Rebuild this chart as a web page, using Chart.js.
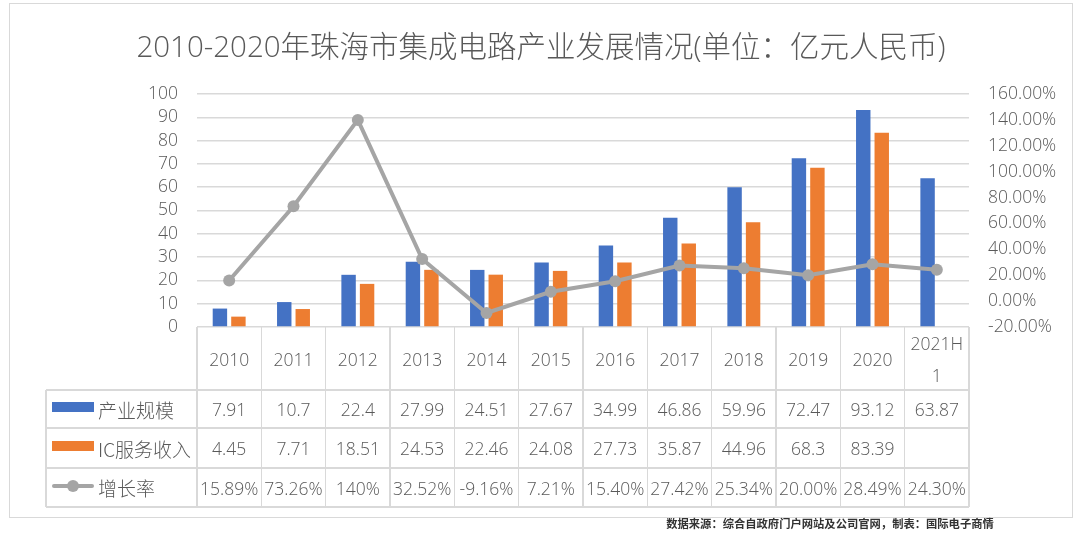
<!DOCTYPE html>
<html>
<head>
<meta charset="utf-8">
<script src="https://cdn.jsdelivr.net/npm/chart.js@4.4.1/dist/chart.umd.min.js"></script>
<style>
  body { margin: 0; background: #fff; }
  #wrap { position: relative; width: 1080px; height: 534px; overflow: hidden;
          font-family: 'Open Sans', 'Noto Sans CJK SC', sans-serif; color: #595959; }
  #frame { position: absolute; left: 9px; top: 3px; width: 1064px; height: 515px;
           border: 1.5px solid #d9d9d9; box-sizing: border-box; }
  #title { position: absolute; left: 0; width: 1082px; top: 26px; text-align: center;
           font-size: 29.5px; font-weight: 300; line-height: 40px; white-space: nowrap; }
  #note { position: absolute; left: 640px; width: 380px; top: 514px; text-align: center;
          font-family: 'Noto Sans CJK SC', sans-serif; font-size: 11.3px; font-weight: 700;
          color: #333; line-height: 18px; white-space: nowrap; }
  canvas { position: absolute; left: 0; top: 0; }
  .ln { position: absolute; background: #d9d9d9; }
  .cell { position: absolute; display: flex; align-items: center; justify-content: center;
          text-align: center; font-size: 17.5px; font-weight: 300; white-space: nowrap;
          line-height: 32px; }
  .lab { position: absolute; font-size: 19px; font-weight: 300; white-space: nowrap;
         font-family: 'Noto Sans CJK SC', sans-serif; display: flex; align-items: center; }
  .key { position: absolute; }
</style>
</head>
<body>
<div id="wrap">
  <div id="frame"></div>
  <canvas id="chart" width="1080" height="534"></canvas>
  <div id="title">2010-2020年珠海市集成电路产业发展情况(单位：亿元人民币)</div>
  <div id="note">数据来源：综合自政府门户网站及公司官网，制表：国际电子商情</div>
</div>
<script>
// 数据
const years = ['2010', '2011', '2012', '2013', '2014', '2015', '2016', '2017', '2018', '2019', '2020', '2021H1'];
const yearLabels = ['2010', '2011', '2012', '2013', '2014', '2015', '2016', '2017', '2018', '2019', '2020', '2021H<br>1'];
const industryScale = [7.91, 10.7, 22.4, 27.99, 24.51, 27.67, 34.99, 46.86, 59.96, 72.47, 93.12, 63.87];
const icIncome = [4.45, 7.71, 18.51, 24.53, 22.46, 24.08, 27.73, 35.87, 44.96, 68.3, 83.39, null];
const growth = [15.89, 73.26, 140, 32.52, -9.16, 7.21, 15.40, 27.42, 25.34, 20.00, 28.49, 24.30];
const growthText = ['15.89%', '73.26%', '140%', '32.52%', '-9.16%', '7.21%', '15.40%', '27.42%', '25.34%', '20.00%', '28.49%', '24.30%'];
const seriesNames = ['产业规模', 'IC服务收入', '增长率'];

const BLUE = '#4472c4', ORANGE = '#ed7d31', GRAY = '#a5a5a5', GRID = '#d9d9d9';

Chart.defaults.font.family = "'Open Sans', 'Noto Sans CJK SC', sans-serif";
Chart.defaults.font.weight = 300;
Chart.defaults.color = '#595959';

const ctx = document.getElementById('chart').getContext('2d');
const chart = new Chart(ctx, {
    type: 'bar',
    data: {
        labels: years,
        datasets: [
            { label: seriesNames[0], data: industryScale, backgroundColor: BLUE, yAxisID: 'y', order: 2,
              categoryPercentage: 0.575, barPercentage: 0.78 },
            { label: seriesNames[1], data: icIncome, backgroundColor: ORANGE, yAxisID: 'y', order: 2,
              categoryPercentage: 0.575, barPercentage: 0.78 },
            { type: 'line', label: seriesNames[2], data: growth, yAxisID: 'y2', order: 1,
              borderColor: GRAY, borderWidth: 4, pointRadius: 6, pointBackgroundColor: GRAY,
              pointBorderWidth: 0, tension: 0 }
        ]
    },
    options: {
        responsive: false,
        animation: false,
        layout: { padding: { top: 94, bottom: 207, left: 0, right: 0 } },
        plugins: { legend: { display: false }, tooltip: { enabled: false } },
        scales: {
            x: { display: false },
            y: {
                position: 'left', min: 0, max: 100,
                ticks: { stepSize: 10, padding: 19, autoSkip: false, font: { size: 17.5 } },
                grid: { color: GRID, lineWidth: 1.5, drawTicks: false },
                border: { display: false },
                afterFit: s => { s.width = 197; }
            },
            y2: {
                position: 'right', min: -20, max: 160,
                ticks: { stepSize: 20, padding: 19, autoSkip: false, font: { size: 17.5 },
                         callback: v => v.toFixed(2) + '%' },
                grid: { display: false, drawTicks: false },
                border: { display: false },
                afterFit: s => { s.width = 111; }
            }
        }
    }
});

// 数据表
const wrap = document.getElementById('wrap');
const add = (cls, x, y, w, h, html) => {
    const d = document.createElement('div');
    d.className = cls;
    Object.assign(d.style, { left: x + 'px', top: y + 'px', width: w + 'px', height: h + 'px' });
    if (html !== undefined) d.innerHTML = html;
    wrap.appendChild(d);
    return d;
};

const area = chart.chartArea;
const xs = chart.scales.x;
const colW = (area.right - area.left) / years.length;
const tableLeft = 46;
const rowTops = [area.bottom, area.bottom + 63, area.bottom + 101, area.bottom + 141, area.bottom + 180];

// 横线
rowTops.slice(1).forEach(y => add('ln', tableLeft, y - 0.75, area.right - tableLeft, 1.5));
// 竖线
for (let i = 0; i <= years.length; i++) {
    add('ln', area.left + i * colW - 0.75, rowTops[0], 1.5, rowTops[4] - rowTops[0]);
}
add('ln', tableLeft - 0.75, rowTops[1], 1.5, rowTops[4] - rowTops[1]);

const rowValues = [
    industryScale.map(v => v === null ? '' : String(v)),
    icIncome.map(v => v === null ? '' : String(v)),
    growthText
];
years.forEach((y, i) => {
    const cx = xs.getPixelForValue(i);
    add('cell', cx - colW / 2, rowTops[0], colW, rowTops[1] - rowTops[0], yearLabels[i]);
    rowValues.forEach((vals, r) => {
        add('cell', cx - colW / 2, rowTops[r + 1], colW, rowTops[r + 2] - rowTops[r + 1], vals[i]);
    });
});

// 图例
seriesNames.forEach((name, r) => {
    const top = rowTops[r + 1], h = rowTops[r + 2] - top;
    add('lab', 98, top, 98, h, name);
    const mid = top + h / 2;
    if (r < 2) {
        const k = add('key', 52, mid - 7, 42, 10);
        k.style.background = r === 0 ? BLUE : ORANGE;
    } else {
        const k = add('key', 52, mid - 4, 42, 4);
        k.style.background = GRAY;
        k.style.borderRadius = '2px';
        const c = add('key', 67, mid - 8, 12, 12);
        c.style.background = GRAY;
        c.style.borderRadius = '50%';
    }
});
</script>
</body>
</html>
